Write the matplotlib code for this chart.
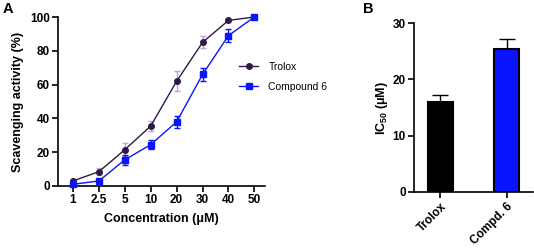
import matplotlib
matplotlib.use("Agg")
import matplotlib.pyplot as plt
import numpy as np

plt.rcParams['font.family'] = ['Liberation Sans', 'DejaVu Sans']
plt.rcParams['mathtext.fontset'] = 'custom'
plt.rcParams['mathtext.bf'] = 'Liberation Sans:bold'
plt.rcParams['mathtext.rm'] = 'Liberation Sans'

concentrations = ["1", "2.5", "5", "10", "20", "30", "40", "50"]
trolox = [3.0, 8.5, 21.5, 35.5, 62.0, 85.0, 98.0, 100.0]
trolox_err = [1.0, 2.0, 4.0, 3.0, 6.0, 3.5, 1.0, 0.0]
cpd6 = [1.0, 3.0, 15.5, 24.5, 38.0, 66.0, 89.0, 100.0]
cpd6_err = [0.5, 1.0, 3.0, 2.5, 3.5, 4.0, 4.0, 0.0]

bar_labels = ["Trolox", "Compd. 6"]
ic50 = [16.0, 25.3]
ic50_err = [1.2, 1.8]

purple = '#2e1a47'
purple_err = '#b9a3dc'
blue = '#0a14ff'

TICK_FS = 8.5
LABEL_FS = 9

fig = plt.figure(figsize=(5.34, 2.52), dpi=100)

# Panel A
axA = fig.add_axes([58/534, 1-186/252, (265-58)/534, (186-17)/252])
x = np.arange(len(concentrations))
axA.errorbar(x, trolox, yerr=trolox_err, fmt='none', ecolor=purple_err, elinewidth=1, capsize=2.5, capthick=1, clip_on=False, zorder=2)
axA.plot(x, trolox, color=purple, marker='o', markersize=4, linewidth=1, label='Trolox', clip_on=False, zorder=3)
axA.errorbar(x, cpd6, yerr=cpd6_err, fmt='none', ecolor=blue, elinewidth=1, capsize=2.5, capthick=1, clip_on=False, zorder=2)
axA.plot(x, cpd6, color=blue, marker='s', markersize=4, linewidth=1, label='Compound 6', clip_on=False, zorder=3)
axA.set_xlim(-0.58, 7.41)
axA.set_ylim(0, 100)
axA.set_xticks(x)
axA.set_xticklabels(concentrations)
axA.set_yticks([0, 20, 40, 60, 80, 100])
for s in ['top', 'right']:
    axA.spines[s].set_visible(False)
for s in ['left', 'bottom']:
    axA.spines[s].set_linewidth(1.2)
axA.tick_params(axis='both', labelsize=TICK_FS, width=1.2, length=4, pad=2)
for lbl in axA.get_xticklabels() + axA.get_yticklabels():
    lbl.set_fontweight('bold')
axA.set_xlabel('Concentration (μM)', fontsize=LABEL_FS, fontweight='bold', labelpad=5)
axA.set_ylabel('Scavenging activity (%)', fontsize=LABEL_FS, fontweight='bold', labelpad=4)
leg = axA.legend(loc='upper left', bbox_to_anchor=(0.83, 0.79), frameon=False, fontsize=7.5,
                 handlelength=1.8, handletextpad=1.0, labelspacing=0.95)
fig.text(3/534, 1-9/252, 'A', fontsize=10.5, fontweight='bold', va='center', ha='left')

# Panel B
axB = fig.add_axes([414/534, 1-192/252, (533-414)/534, (192-23)/252])
xb = np.arange(len(bar_labels))
axB.bar(xb, ic50, width=0.38, color=['black', blue], edgecolor='black', linewidth=1.5, zorder=2)
axB.errorbar(xb, ic50, yerr=[[0, 0], ic50_err], fmt='none', ecolor='black', elinewidth=1, capsize=6, capthick=1, zorder=1)
axB.set_xlim(-0.40, 1.40)
axB.set_ylim(0, 30)
axB.set_yticks([0, 10, 20, 30])
axB.set_xticks(xb)
axB.set_xticklabels(bar_labels, rotation=45, ha='right', rotation_mode='anchor')
for s in ['top', 'right']:
    axB.spines[s].set_visible(False)
for s in ['left', 'bottom']:
    axB.spines[s].set_linewidth(1.2)
axB.tick_params(axis='both', labelsize=TICK_FS, width=1.2, length=4, pad=2)
for lbl in axB.get_xticklabels() + axB.get_yticklabels():
    lbl.set_fontweight('bold')
axB.set_ylabel(r'IC$_{\mathbf{50}}$ (μM)', fontsize=LABEL_FS, fontweight='bold', labelpad=2)
fig.text(363/534, 1-9/252, 'B', fontsize=10.5, fontweight='bold', va='center', ha='left')

fig.savefig('out.png', dpi=100)
